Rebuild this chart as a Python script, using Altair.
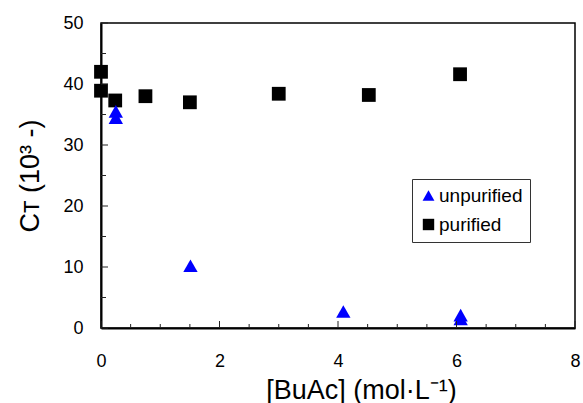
import altair as alt
import pandas as pd

# ---- data ----
series = ["unpurified", "purified"]
unpur_x = [0.25, 0.25, 1.51, 4.09, 6.07, 6.07]
unpur_y = [35.5, 34.5, 10.2, 2.7, 2.1, 1.5]
pur_x = [0.0, 0.0, 0.24, 0.75, 1.50, 3.0, 4.52, 6.06]
pur_y = [42.0, 38.9, 37.3, 38.0, 37.0, 38.4, 38.2, 41.6]

x_major = [0, 2, 4, 6, 8]
x_minor = [0.5, 1, 1.5, 2.5, 3, 3.5, 4.5, 5, 5.5, 6.5, 7, 7.5]
y_major = [0, 10, 20, 30, 40, 50]
y_minor = [5, 15, 25, 35, 45]

x_title = "[BuAc] (mol·L⁻¹)"
y_title = "Cᴛ (10³ -)"

# ---- tables ----
pts = pd.DataFrame(
    {
        "x": pur_x + unpur_x,
        "y": pur_y + unpur_y,
        "s": ["purified"] * len(pur_x) + ["unpurified"] * len(unpur_x),
    }
)
xmaj = pd.DataFrame({"x": x_major})
xmin = pd.DataFrame({"x": x_minor})
ymaj = pd.DataFrame({"y": y_major})
ymin = pd.DataFrame({"y": y_minor})

W, H = 474, 305
FONT = "Liberation Sans"
TRI = "M0,-0.92L1.04,0.92L-1.04,0.92Z"

xscale = alt.Scale(domain=[0, 8], nice=False, zero=False)
yscale = alt.Scale(domain=[0, 50], nice=False, zero=False)

xaxis = alt.Axis(
    values=x_major, ticks=False, grid=False, labelPadding=24, labelFontSize=18,
    labelColor="black", domainColor="black", domainWidth=2, format="d",
    labelFlush=False, labelOverlap=False,
    title=x_title, titleFontSize=27, titleFontWeight="normal", titleColor="black",
    titleX=260, titleY=70, titleBaseline="alphabetic", titleAnchor="middle",
    titleAlign="center",
)
yaxis = alt.Axis(
    values=y_major, ticks=False, grid=False, labelPadding=18, labelFontSize=18,
    labelColor="black", domainColor="black", domainWidth=2, format="d",
    labelFlush=False, labelOverlap=False,
    title=y_title, titleFontSize=27, titleFontWeight="normal", titleColor="black",
    titleX=-63, titleY=H / 2, titleAngle=270, titleBaseline="alphabetic",
    titleAlign="center",
)

leg = alt.Legend(
    title=None, orient="none", legendX=311, legendY=156,
    strokeColor="#333333", fillColor="white", padding=7,
    rowPadding=9, labelFontSize=19, labelColor="black",
    labelOffset=1, symbolSize=130, symbolStrokeWidth=0,
    labelFont=FONT,
)

points = (
    alt.Chart(pts)
    .mark_point(filled=True, opacity=1, size=190, strokeWidth=0)
    .encode(
        x=alt.X("x:Q", scale=xscale, axis=xaxis),
        y=alt.Y("y:Q", scale=yscale, axis=yaxis),
        shape=alt.Shape(
            "s:N", scale=alt.Scale(domain=series, range=[TRI, "square"]), legend=leg
        ),
        color=alt.Color(
            "s:N", scale=alt.Scale(domain=series, range=["#0000ff", "#000000"]), legend=leg
        ),
    )
)

tick_color = "#222222"
x_major_ticks = alt.Chart(xmaj).mark_rule(color=tick_color, strokeWidth=1).encode(
    x=alt.X("x:Q", scale=xscale, axis=xaxis), y=alt.value(H), y2=alt.value(H - 7)
)
x_minor_ticks = alt.Chart(xmin).mark_rule(color=tick_color, strokeWidth=1).encode(
    x=alt.X("x:Q", scale=xscale, axis=xaxis), y=alt.value(H), y2=alt.value(H - 4)
)
y_major_ticks = alt.Chart(ymaj).mark_rule(color=tick_color, strokeWidth=1).encode(
    y=alt.Y("y:Q", scale=yscale, axis=yaxis), x=alt.value(0), x2=alt.value(7)
)
y_minor_ticks = alt.Chart(ymin).mark_rule(color=tick_color, strokeWidth=1).encode(
    y=alt.Y("y:Q", scale=yscale, axis=yaxis), x=alt.value(0), x2=alt.value(5)
)

chart = (
    alt.layer(points, x_major_ticks, x_minor_ticks, y_major_ticks, y_minor_ticks)
    .properties(
        width=W,
        height=H,
        autosize=alt.AutoSizeParams(type="none"),
        padding={"left": 101, "top": 23, "right": 8, "bottom": 75},
        background="white",
    )
    .configure(font=FONT)
    .configure_view(stroke="black", strokeWidth=1.5)
)

chart.save("out.html", embed_options={"renderer": "svg", "actions": False})
